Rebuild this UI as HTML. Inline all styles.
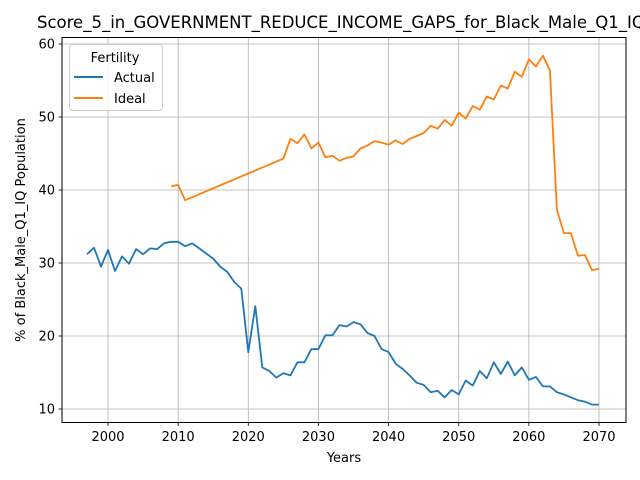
<!DOCTYPE html>
<html><head><meta charset="utf-8"><style>body{margin:0;background:#fff}svg{display:block;font-family:"DejaVu Sans","Liberation Sans",sans-serif}</style></head>
<body>
<svg id="chart" width="640" height="480" viewBox="0 0 640 480">
<rect width="640" height="480" fill="#fff"/>
<text x="37" y="28" font-size="16.5" fill="#000">Score_5_in_GOVERNMENT_REDUCE_INCOME_GAPS_for_Black_Male_Q1_IQ_Population</text>
<g id="grid"></g>
<g id="axes"></g>
<g id="lines"></g>
<rect x="62" y="37.5" width="564" height="385" fill="none" stroke="#000" stroke-width="1"/>
<g>
<rect x="69.5" y="44.5" width="93" height="66" rx="3" fill="#fff" fill-opacity="0.8" stroke="#ccc"/>
<text x="115" y="62" font-size="13" text-anchor="middle">Fertility</text>
<line x1="74" y1="77" x2="103" y2="77" stroke="#1f77b4" stroke-width="2"/>
<text x="114" y="82" font-size="13">Actual</text>
<line x1="74" y1="98" x2="103" y2="98" stroke="#ff7f0e" stroke-width="2"/>
<text x="114" y="103" font-size="13">Ideal</text>
</g>
<text x="344" y="462" font-size="13" text-anchor="middle">Years</text>
<text transform="translate(25,230) rotate(-90)" font-size="13" text-anchor="middle">% of Black_Male_Q1_IQ Population</text>
</svg>
<script>
const actualYears = [1997,1998,1999,2000,2001,2002,2003,2004,2005,2006,2007,2008,2009,2010,2011,2012,2013,2014,2015,2016,2017,2018,2019,2020,2021,2022,2023,2024,2025,2026,2027,2028,2029,2030,2031,2032,2033,2034,2035,2036,2037,2038,2039,2040,2041,2042,2043,2044,2045,2046,2047,2048,2049,2050,2051,2052,2053,2054,2055,2056,2057,2058,2059,2060,2061,2062,2063,2064,2065,2066,2067,2068,2069,2070];
const actualValues = [31.2,32.1,29.5,31.8,28.9,30.9,29.9,31.9,31.2,32.0,31.9,32.7,32.9,32.9,32.3,32.7,32.0,31.3,30.6,29.5,28.8,27.4,26.5,17.8,24.1,15.7,15.2,14.3,14.9,14.6,16.4,16.4,18.2,18.2,20.1,20.1,21.5,21.3,21.9,21.6,20.4,20.0,18.2,17.8,16.2,15.5,14.6,13.6,13.3,12.3,12.5,11.6,12.6,12.0,13.9,13.2,15.2,14.2,16.4,14.8,16.5,14.6,15.7,14.0,14.4,13.1,13.1,12.3,12.0,11.6,11.2,11.0,10.6,10.6];
const idealYears = [2009,2010,2011,2025,2026,2027,2028,2029,2030,2031,2032,2033,2034,2035,2036,2037,2038,2039,2040,2041,2042,2043,2044,2045,2046,2047,2048,2049,2050,2051,2052,2053,2054,2055,2056,2057,2058,2059,2060,2061,2062,2063,2064,2065,2066,2067,2068,2069,2070];
const idealValues = [40.5,40.7,38.6,44.3,47.0,46.4,47.6,45.7,46.5,44.5,44.7,44.0,44.4,44.6,45.7,46.1,46.7,46.5,46.2,46.8,46.3,47.0,47.4,47.8,48.8,48.4,49.6,48.8,50.6,49.8,51.5,51.0,52.8,52.4,54.3,53.9,56.2,55.5,57.9,56.9,58.4,56.4,37.3,34.1,34.1,31.0,31.1,29.0,29.2];
const xTicks = [2000,2010,2020,2030,2040,2050,2060,2070];
const yTicks = [10,20,30,40,50,60];

const NS = "http://www.w3.org/2000/svg";
function xs(v){return 108 + (v-2000)*(491/70);}
function ys(v){return 409 - (v-10)*(365/50);}
function mk(tag, attrs, parent){const e=document.createElementNS(NS,tag);for(const k in attrs)e.setAttribute(k,attrs[k]);parent.appendChild(e);return e;}
const grid=document.getElementById('grid'), axes=document.getElementById('axes'), lines=document.getElementById('lines');
xTicks.forEach(t=>{
  const x=xs(t);
  const g=mk('line',{x1:x,y1:37.5,x2:x,y2:422.5,stroke:'#b0b0b0','stroke-width':0.8},grid);
  
  
  const tk=mk('line',{x1:x,y1:422.5,x2:x,y2:426,stroke:'#000','stroke-width':0.8},axes);
  
  
  const tx=mk('text',{x:x,y:441,'font-size':13,'text-anchor':'middle'},axes);
  tx.textContent=t;
  
  
});
yTicks.forEach(t=>{
  const y=ys(t);
  const g=mk('line',{x1:62,y1:y,x2:626,y2:y,stroke:'#b0b0b0','stroke-width':0.8},grid);
  
  
  const tk=mk('line',{x1:58.5,y1:y,x2:62,y2:y,stroke:'#000','stroke-width':0.8},axes);
  
  
  const tx=mk('text',{x:55,y:y+4.5,'font-size':13,'text-anchor':'end'},axes);
  tx.textContent=t;
  
  
});
function pts(xv,yv){return xv.map((x,i)=>xs(x).toFixed(1)+','+ys(yv[i]).toFixed(1)).join(' ');}
const la=mk('polyline',{points:pts(actualYears,actualValues),fill:'none',stroke:'#1f77b4','stroke-width':1.8,'stroke-linejoin':'round'},lines);


const li=mk('polyline',{points:pts(idealYears,idealValues),fill:'none',stroke:'#ff7f0e','stroke-width':1.8,'stroke-linejoin':'round'},lines);


</script>
</body></html>
